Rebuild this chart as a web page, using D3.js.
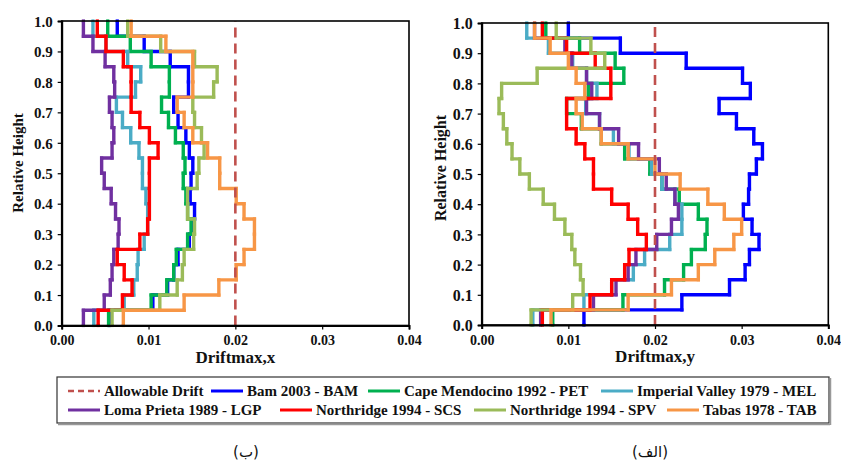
<!DOCTYPE html>
<html><head><meta charset="utf-8">
<script src="https://cdn.jsdelivr.net/npm/d3@7"></script>
<style>
body{margin:0;background:#fff}
svg{display:block}
text{font-family:"Liberation Serif","Tinos","Times New Roman","Nimbus Roman","DejaVu Serif",serif;font-weight:bold;fill:#111}
</style>
</head><body>
<svg id="c" width="841" height="465"></svg>
<script>
// ---------------- DATA ----------------
const storyLevels = [0,0.05,0.1,0.15,0.2,0.25,0.3,0.35,0.4,0.45,0.5,0.55,0.6,0.65,0.7,0.75,0.8,0.85,0.9,0.95,1.0];
const seriesNames = ["Bam 2003 - BAM","Cape Mendocino 1992 - PET","Imperial Valley 1979 - MEL","Loma Prieta 1989 - LGP","Northridge 1994 - SCS","Northridge 1994 - SPV","Tabas 1978 - TAB"];
const seriesColors = ["#0000FF","#00B050","#4BACC6","#7030A0","#FF0000","#9BBB59","#F79646"];
const allowableName = "Allowable Drift";
const allowableDrift = 0.02;
const allowableColor = "#C0504D";
const xTicks = [0,0.01,0.02,0.03,0.04];
const xTickLabels = ["0.00","0.01","0.02","0.03","0.04"];
const yTicks = [0,0.1,0.2,0.3,0.4,0.5,0.6,0.7,0.8,0.9,1.0];
const yTickLabels = ["0.0","0.1","0.2","0.3","0.4","0.5","0.6","0.7","0.8","0.9","1.0"];
const panelXTitle = "Driftmax,x";
const panelYTitle = "Driftmax,y";
const yTitle = "Relative Height";
const captionLeft = "(ب)";
const captionRight = "(الف)";

// story drifts (x 0.001), story 1 (bottom) to story 20 (top) — X direction
const driftX_BAM = [5.5,10.5,12.2,12.9,13.4,14.7,15.1,15.3,14.8,14.9,15.1,14.7,14.3,13.4,12.9,14.6,14.6,12.5,9.5,6.4];
const driftX_PET = [5.4,10.3,12.1,12.9,13.2,14.5,14.9,14.5,14.3,14.0,14.2,14.0,13.1,12.3,11.5,12.4,12.4,10.3,7.9,5.3];
const driftX_MEL = [3.7,7.2,8.3,8.7,8.8,9.5,9.9,9.9,9.7,9.3,9.3,8.9,7.95,7.0,6.3,8.5,9.1,7.6,5.1,3.6];
const driftX_LGP = [2.5,4.9,5.6,5.8,6.0,6.5,6.6,6.2,5.7,4.9,4.6,5.8,6.0,5.8,5.5,6.1,6.0,5.0,3.6,2.5];
const driftX_SCS = [4.2,7.0,8.1,7.2,6.4,9.0,9.9,10.1,10.1,10.1,10.1,11.1,10.1,9.0,8.0,8.0,8.0,7.1,5.1,4.1];
const driftX_SPV = [5.8,11.3,13.3,13.9,14.1,15.2,15.3,14.5,14.5,15.6,15.8,16.4,16.1,15.3,15.1,17.5,17.9,15.3,11.4,7.6];
const driftX_TAB = [7.1,14.1,18.1,20.1,21.0,22.2,22.2,21.0,20.1,18.2,18.2,16.8,15.1,14.1,13.3,15.1,15.1,15.1,12.0,8.0];

// Y direction
const driftY_BAM = [11.8,23.1,28.6,30.4,30.9,32.0,31.2,30.2,30.8,30.9,31.7,32.4,31.4,29.4,27.4,31.0,30.1,23.6,16.0,10.0];
const driftY_PET = [8.2,16.3,21.1,23.3,24.2,25.8,26.0,25.0,22.8,20.8,19.4,16.5,13.8,11.5,9.8,12.3,16.4,15.4,11.3,7.4];
const driftY_MEL = [5.9,11.8,15.0,17.5,18.8,21.7,23.1,23.1,22.3,20.8,19.6,17.0,15.2,13.6,12.0,13.3,12.1,10.5,7.7,5.2];
const driftY_LGP = [6.8,12.9,15.5,16.9,17.8,20.2,21.9,22.7,22.3,21.3,20.5,18.1,15.8,13.6,12.1,12.7,12.1,10.4,9.6,6.1];
const driftY_SCS = [7.0,12.5,15.0,16.5,17.0,19.0,18.0,16.9,15.0,12.9,12.9,11.9,10.9,9.8,9.8,14.9,14.9,13.1,9.8,7.0];
const driftY_SPV = [5.7,10.5,11.7,11.4,10.75,10.4,9.6,8.4,7.1,5.5,4.4,3.5,2.9,2.5,2.0,2.3,6.4,14.2,12.6,8.6];
const driftY_TAB = [8.0,16.9,21.9,25.0,26.9,29.1,30.0,28.0,26.1,22.9,20.0,16.9,13.8,11.6,10.9,11.9,10.9,10.0,7.9,6.1];

const seriesX = [driftX_BAM,driftX_PET,driftX_MEL,driftX_LGP,driftX_SCS,driftX_SPV,driftX_TAB];
const seriesY = [driftY_BAM,driftY_PET,driftY_MEL,driftY_LGP,driftY_SCS,driftY_SPV,driftY_TAB];

// ---------------- LAYOUT ----------------
const FONT = '"Liberation Serif","Tinos","Times New Roman","Nimbus Roman","DejaVu Serif",serif';
const svg = d3.select("#c");
const panels = [
  {x0:61.7, x1:409, yT:21, yB:325.5, data:seriesX, title:panelXTitle, yTitleX:18, yTitleY:163, ySize:15, caption:captionLeft, capX:246},
  {x0:481.7, x1:828.3, yT:23, yB:325, data:seriesY, title:panelYTitle, yTitleX:440, yTitleY:168, ySize:16, caption:captionRight, capX:650}
];

panels.forEach(p => {
  const x = d3.scaleLinear().domain([0,0.04]).range([p.x0,p.x1]);
  const y = d3.scaleLinear().domain([0,1]).range([p.yB,p.yT]);
  const g = svg.append("g");

  const lineGen = d3.line().x(d=>x(d[0])).y(d=>y(d[1]));
  p.data.forEach((vals,si) => {
    const pts = [];
    vals.forEach((v,i) => {
      const d = v/1000;
      pts.push([d, storyLevels[i]]);
      pts.push([d, storyLevels[i+1]]);
    });
    g.append("path").attr("d", lineGen(pts))
      .attr("fill","none").attr("stroke",seriesColors[si])
      .attr("stroke-width",3.4).attr("stroke-linejoin","miter").attr("stroke-linecap","butt");
    g.selectAll(null).data(pts).enter().append("rect")
      .attr("x",d=>x(d[0])-1.6).attr("y",d=>y(d[1])-1.6).attr("width",3.2).attr("height",3.2)
      .attr("fill",seriesColors[si]);
  });

  g.append("line").attr("x1",x(allowableDrift)).attr("x2",x(allowableDrift))
    .attr("y1",p.yB).attr("y2",p.yT)
    .attr("stroke",allowableColor).attr("stroke-width",2.6).attr("stroke-dasharray","10,6");

  g.append("rect").attr("x",p.x0).attr("y",p.yT).attr("width",p.x1-p.x0).attr("height",p.yB-p.yT)
    .attr("fill","none").attr("stroke","#000").attr("stroke-width",1.6);

  const xa = d3.axisBottom(x).tickValues(xTicks).tickFormat((d,i)=>xTickLabels[i]).tickSize(4).tickPadding(6);
  const ya = d3.axisLeft(y).tickValues(yTicks).tickFormat((d,i)=>yTickLabels[i]).tickSize(4).tickPadding(5);
  const gx = g.append("g").attr("transform",`translate(0,${p.yB})`).call(xa);
  const gy = g.append("g").attr("transform",`translate(${p.x0},0)`).call(ya);
  [gx,gy].forEach(a=>{ a.attr("font-family",null);
    a.select(".domain").attr("stroke","#000").attr("stroke-width",2);
    a.selectAll(".tick line").attr("stroke","#000").attr("stroke-width",1.2);
    a.selectAll("text").attr("fill","#111").style("font-family",FONT).style("font-weight","bold"); });
  gx.selectAll("text").style("font-size","14px");
  gy.selectAll("text").style("font-size", p.ySize+"px").attr("dy","0.35em");

  g.append("text").attr("x",(p.x0+p.x1)/2).attr("y",p.yB+37).attr("text-anchor","middle")
    .style("font-family",FONT).style("font-size","17px").text(p.title);
  g.append("text").attr("transform",`translate(${p.yTitleX},${p.yTitleY}) rotate(-90)`)
    .attr("text-anchor","middle").attr("dy","0.35em").style("font-family",FONT).style("font-size",p.ySize+"px").text(yTitle);

  svg.append("text").attr("x",p.capX).attr("y",457).attr("text-anchor","middle")
    .style("font-family",'"DejaVu Sans",sans-serif').style("font-weight","normal").style("font-size","15px")
    .text(p.caption);
});

// ---------------- LEGEND ----------------
const lg = svg.append("g");
lg.append("rect").attr("x",57).attr("y",377).attr("width",772).attr("height",46)
  .attr("fill","#fff").attr("stroke","#333").attr("stroke-width",1.2);
lg.append("line").attr("x1",58).attr("x2",830).attr("y1",424.5).attr("y2",424.5).attr("stroke","#999").attr("stroke-width",1.5);
lg.append("line").attr("x1",830.5).attr("x2",830.5).attr("y1",378).attr("y2",425).attr("stroke","#999").attr("stroke-width",1.5);

const legendItems = [{name:allowableName,color:allowableColor,dash:true}]
  .concat(seriesNames.map((n,i)=>({name:n,color:seriesColors[i],dash:false})));
const legendPos = [[68,391],[211,391],[368,391],[601,391],[68,410],[280,410],[474,410],[667,410]];
legendItems.forEach((it,i)=>{
  const [lx,ly] = legendPos[i];
  lg.append("line").attr("x1",lx).attr("x2",lx+32).attr("y1",ly).attr("y2",ly)
    .attr("stroke",it.color).attr("stroke-width",it.dash?2.4:3)
    .attr("stroke-dasharray",it.dash?"6,4":null);
  lg.append("text").attr("x",lx+36).attr("y",ly).attr("dy","0.35em")
    .style("font-family",FONT).style("font-size","15px").text(it.name);
});
</script>
</body></html>
